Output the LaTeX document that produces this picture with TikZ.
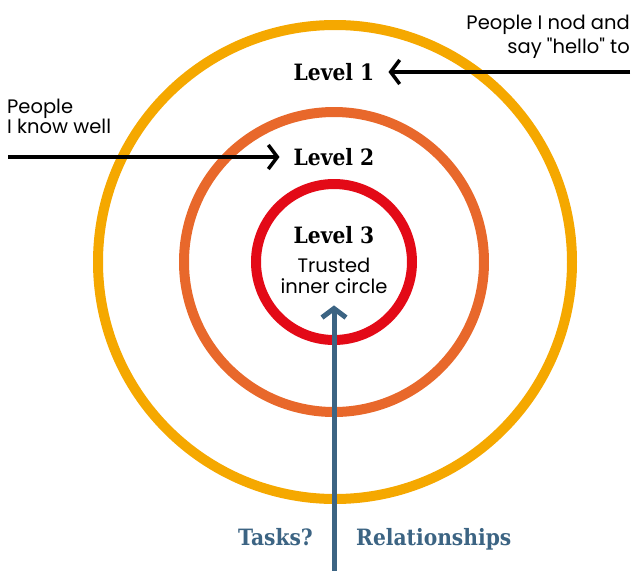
\documentclass[tikz,border=0pt]{standalone}
\usepackage{fontspec}
\setmainfont{Poppins}[Ligatures=TeXOff]
\newfontfamily\slabfont{DejaVu Serif Condensed}
\usetikzlibrary{arrows.meta,positioning}

\definecolor{ringone}{HTML}{F5A800}
\definecolor{ringtwo}{HTML}{E8682B}
\definecolor{ringthree}{HTML}{E30A17}
\definecolor{taskblue}{HTML}{3C6483}

\begin{document}
\begin{tikzpicture}
 [
  x=1pt,y=-1pt,
  ring/.style={circle,draw=#1,line width=10pt,inner sep=0pt},
  level/.style={font=\slabfont\bfseries\fontsize{22.5}{26}\selectfont,inner xsep=14pt,inner ysep=0pt,anchor=base},
  note/.style={font=\fontsize{19.5}{24}\selectfont,inner sep=0pt},
  pointer/.style={-{Straight Barb[length=9pt,width=24pt]},line width=3.5pt},
 ]
  \useasboundingbox (0,0) rectangle (633,571);
  % the three rings
  \node [ring=ringone,minimum size=474pt] (outer) at (335,262) {};
  \node [ring=ringtwo,minimum size=300pt] (middle) at (334,262) {};
  \node [ring=ringthree,minimum size=156pt] (inner) at (334,262) {};

  \node [level] (lvlone) at (334,80) {Level 1};
  \node [level] (lvltwo) at (334,165) {Level 2};
  \node [level] (lvlthree) at (334,243) {Level 3};
  \node [note,anchor=base] (trusted) at (334,272) {Trusted};
  \node [note,anchor=base,inner ysep=12pt] (innerline) at (334,293) {inner circle};

  \node [note,align=right,anchor=base east] (hello) at (630,53) {People I nod and\\say "hello" to};
  \node [note,align=left,anchor=base west,font=\fontsize{19.5}{20}\selectfont] (well) at (7,133) {People\\I know well};

  \coordinate (helloend) at (630,72);
  \coordinate (wellend) at (8,157);
  \coordinate (taskfoot) at (334,575);
  \draw [pointer] (helloend) -- (lvlone.east |- helloend);
  \draw [pointer] (wellend) -- (lvltwo.west |- wellend);
  \draw [pointer,draw=taskblue,line width=5pt] (taskfoot) -- (innerline.south);

  \node [level,text=taskblue,anchor=base east,inner xsep=0pt] (tasks) at (313,545) {Tasks?};
  \node [level,text=taskblue,anchor=base west,inner xsep=0pt] (relations) at (356,545) {Relationships};
\end{tikzpicture}
\end{document}
